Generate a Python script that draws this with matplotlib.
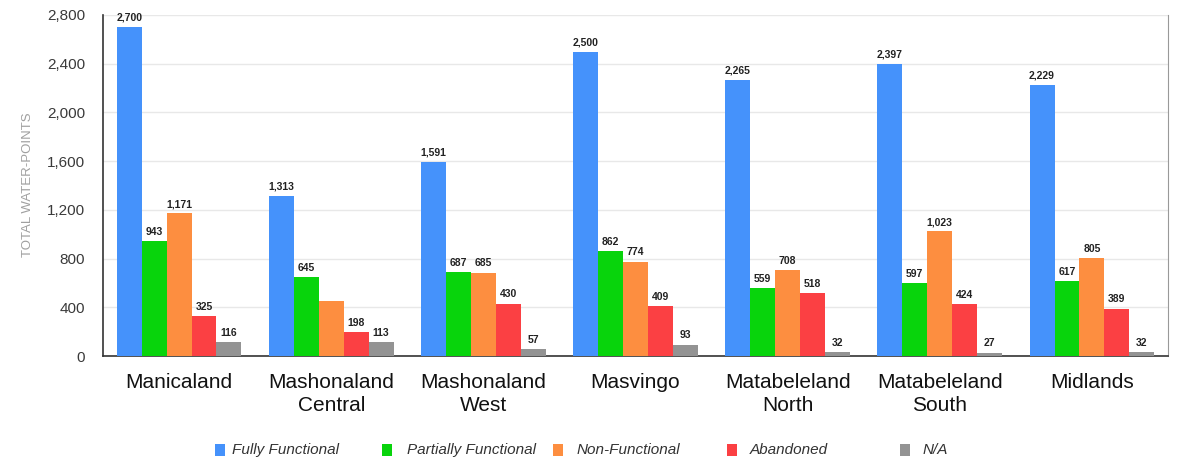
import matplotlib
matplotlib.use("Agg")
import matplotlib.pyplot as plt
from matplotlib.patches import Rectangle
from matplotlib import font_manager
import numpy as np

provinces = ["Manicaland", "Mashonaland\nCentral", "Mashonaland\nWest", "Masvingo",
             "Matabeleland\nNorth", "Matabeleland\nSouth", "Midlands"]
series_names = ["Fully Functional", "Partially Functional", "Non-Functional", "Abandoned", "N/A"]
fully_functional = [2700, 1313, 1591, 2500, 2265, 2397, 2229]
partially_functional = [943, 645, 687, 862, 559, 597, 617]
non_functional = [1171, 455, 685, 774, 708, 1023, 805]
abandoned = [325, 198, 430, 409, 518, 424, 389]
not_available = [116, 113, 57, 93, 32, 27, 32]
# which bars carry a value label (Mashonaland Central non-functional is unlabeled)
non_functional_labeled = [True, False, True, True, True, True, True]
y_ticks = [0, 400, 800, 1200, 1600, 2000, 2400, 2800]

colors = ["#4592fb", "#08d40c", "#fd8e40", "#fb4043", "#939393"]

names = {f.name for f in font_manager.fontManager.ttflist}
base = "Liberation Sans" if "Liberation Sans" in names else "DejaVu Sans"
plt.rcParams["font.family"] = [base, "DejaVu Sans"]

fig = plt.figure(figsize=(11.81, 4.59), dpi=100)
ax = fig.add_axes([103/1181, 1-356/459, (1168-103)/1181, (356-15)/459])

series = [fully_functional, partially_functional, non_functional, abandoned, not_available]
labeled = [[True]*7, [True]*7, non_functional_labeled, [True]*7, [True]*7]
x = np.arange(len(provinces))
w = 0.164
for i, (vals, c) in enumerate(zip(series, colors)):
    pos = x + (i - 2) * w
    ax.bar(pos, vals, width=w, color=c, zorder=3, linewidth=0)
    for p, v, lab in zip(pos, vals, labeled[i]):
        if lab:
            ax.text(p, v + 35, f"{v:,}", ha="center", va="bottom", fontsize=7.5,
                    fontweight="bold", color="#222222", zorder=4)

ax.set_xlim(-0.5, len(provinces) - 0.5)
ax.set_ylim(0, 2800)
ax.set_yticks(y_ticks)
ax.set_yticklabels([f"{t:,}" for t in y_ticks], fontsize=11, color="#3a3a3a")
ax.tick_params(axis="y", length=0, pad=13)
ax.set_xticks(x)
ax.set_xticklabels(provinces, fontsize=15, color="#111111", linespacing=1.3)
ax.tick_params(axis="x", length=0, pad=12)
ax.grid(axis="y", color="#e8e8e8", linewidth=1, zorder=0)
ax.set_axisbelow(True)
ax.spines["top"].set_visible(False)
ax.spines["left"].set_color("#333333")
ax.spines["bottom"].set_color("#333333")
ax.spines["right"].set_color("#999999")
ax.spines["left"].set_linewidth(1.2)
ax.spines["bottom"].set_linewidth(1.2)

fig.text(28/1181, 1-185/459, "TOTAL WATER-POINTS", rotation=90, ha="center", va="center",
         fontsize=9.5, color="#a0a0a0")

# legend
sq_x = [215, 382, 553, 727, 900]
txt_x = [232, 407, 577, 750, 923]
ly = 450
for sx, tx, c, name in zip(sq_x, txt_x, colors, series_names):
    fig.add_artist(Rectangle((sx/1181, 1-(ly+6)/459), 10/1181, 12/459,
                             transform=fig.transFigure, color=c, linewidth=0))
    fig.text(tx/1181, 1-ly/459, name, ha="left", va="center", fontsize=11,
             style="italic", color="#333333")

fig.savefig("out.png", dpi=100, facecolor="white")
